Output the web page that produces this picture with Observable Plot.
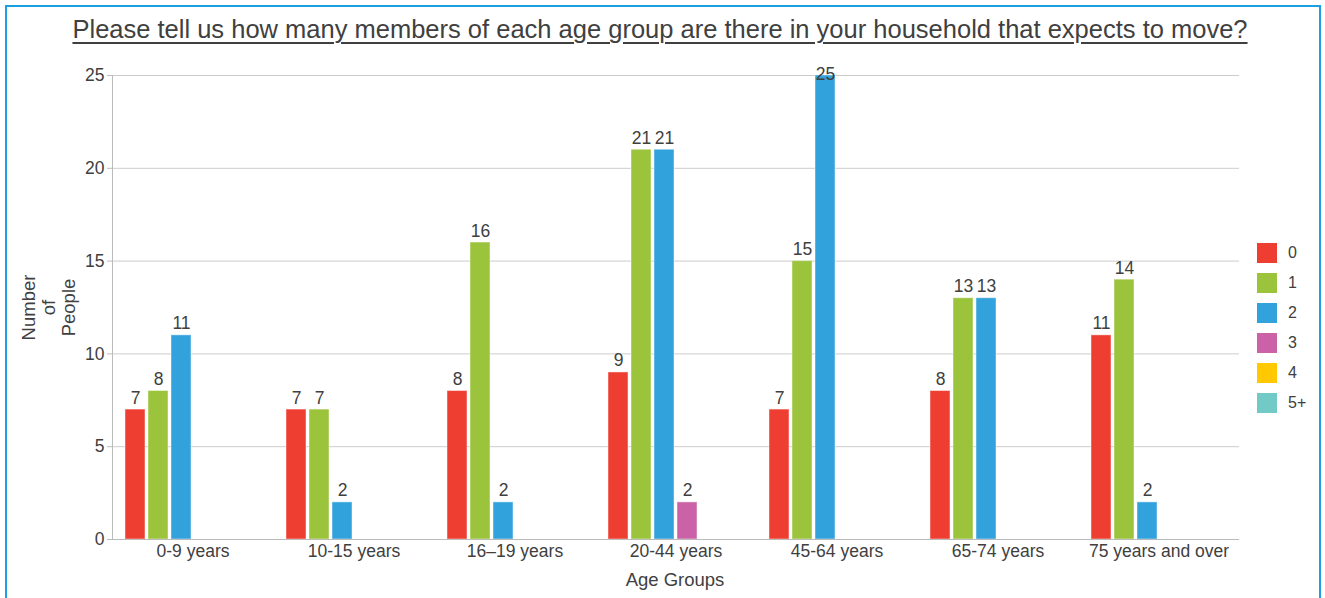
<!DOCTYPE html>
<html>
<head>
<meta charset="utf-8">
<script src="https://cdn.jsdelivr.net/npm/d3@7"></script>
<script src="https://cdn.jsdelivr.net/npm/@observablehq/plot@0.6"></script>
<style>
  html, body { margin: 0; padding: 0; background: #fff; }
  body { font-family: "Liberation Sans", Arial, sans-serif; color: #404040; }
  #wrap { position: relative; width: 1325px; height: 598px; overflow: hidden; }
  #border { position: absolute; left: 5px; top: 5px; width: 1316px; height: 640px; border: 2px solid #1a9fe3; box-sizing: border-box; }
  #title { position: absolute; left: 0; top: 15px; width: 1320px; text-align: center; font-size: 25.5px; line-height: 28px; color: #404040; text-decoration: underline; text-decoration-thickness: 2px; text-underline-offset: 4px; white-space: nowrap; }
  #xlabel { position: absolute; left: 575px; top: 570px; width: 200px; text-align: center; font-size: 18.5px; line-height: 20px; color: #404040; }
  #chart { position: absolute; left: 0; top: 0; }
  #legend { position: absolute; left: 1257px; top: 243px; }
  .item { position: relative; height: 30px; }
  .sw { position: absolute; left: 0; top: 0; width: 20px; height: 20px; }
  .lb { position: absolute; left: 31px; top: 0; line-height: 20px; font-size: 16px; color: #404040; }
</style>
</head>
<body>
<div id="wrap">
  <div id="border"></div>
  <div id="chart"></div>
  <div id="title">Please tell us how many members of each age group are there in your household that expects to move?</div>
  <div id="xlabel">Age Groups</div>
  <div id="legend"></div>
</div>
<script>
const groups = ["0-9 years", "10-15 years", "16–19 years", "20-44 years", "45-64 years", "65-74 years", "75 years and over"];
const series = ["0", "1", "2", "3", "4", "5+"];
const values0 = [7, 7, 8, 9, 7, 8, 11];
const values1 = [8, 7, 16, 21, 15, 13, 14];
const values2 = [11, 2, 2, 21, 25, 13, 2];
const values3 = [0, 0, 0, 2, 0, 0, 0];
const values4 = [0, 0, 0, 0, 0, 0, 0];
const values5 = [0, 0, 0, 0, 0, 0, 0];
const colors = ["#ee3e32", "#9bc43c", "#32a2dc", "#cb62a8", "#ffc800", "#72cac6"];
const yTicks = [0, 5, 10, 15, 20, 25];
const yLabel = "Number\nof\nPeople";

const seriesValues = [values0, values1, values2, values3, values4, values5];
const data = series.flatMap((s, i) => groups.map((g, j) => ({group: g, series: s, value: seriesValues[i][j]})));
const labelled = data.filter(d => d.value > 0);
const yMax = yTicks[yTicks.length - 1];
const fits = labelled.filter(d => d.value <= yMax - 1.5);
const overflow = labelled.filter(d => d.value > yMax - 1.5);

const font = '"Liberation Sans", Arial, sans-serif';
const chart = Plot.plot({
  width: 1325,
  height: 598,
  marginLeft: 111,
  marginRight: 86,
  marginTop: 75,
  marginBottom: 59,
  style: {fontFamily: font, fontSize: "17.5px", color: "#404040", background: "transparent"},
  fx: {domain: groups, padding: 0, label: null},
  x: {domain: series, paddingInner: 0.136, paddingOuter: 0.47, axis: null},
  y: {domain: [0, yMax], label: null},
  color: {domain: series, range: colors},
  marks: [
    Plot.gridY(yTicks.slice(1), {stroke: "#cccccc", strokeOpacity: 1}),
    Plot.barY(data, {fx: "group", x: "series", y: "value", fill: "series", stroke: "#ffffff", strokeOpacity: 0.45, strokeWidth: 1}),
    Plot.ruleY([0], {stroke: "#bbbbbb"}),
    Plot.frame({anchor: "left", facetAnchor: "left", stroke: "#bbbbbb"}),
    Plot.axisY({ticks: yTicks, tickSize: 5, tickPadding: 3, label: null, stroke: "#bbbbbb", color: "#404040", fontSize: 17.5}),
    Plot.axisFx({anchor: "bottom", tickSize: 0, tickPadding: 5, label: null, fontSize: 17.5, color: "#404040"}),
    Plot.text(fits, {fx: "group", x: "series", y: "value", text: d => String(d.value), lineAnchor: "bottom", dy: -6, fill: "#404040", fontSize: 17.5}),
    Plot.text(overflow, {fx: "group", x: "series", frameAnchor: "top", text: d => String(d.value), lineAnchor: "top", dy: -8, fill: "#404040", fontSize: 17.5}),
    Plot.text([yLabel], {frameAnchor: "left", facetAnchor: "left", textAnchor: "middle", lineAnchor: "middle", rotate: -90, dx: -64, lineHeight: 1.08, fill: "#404040", fontSize: 18.5})
  ]
});
document.getElementById("chart").appendChild(chart);

const legend = document.getElementById("legend");
series.forEach((s, i) => {
  const item = document.createElement("div");
  item.className = "item";
  item.innerHTML = `<div class="sw" style="background:${colors[i]}"></div><div class="lb">${s}</div>`;
  legend.appendChild(item);
});
</script>
</body>
</html>
